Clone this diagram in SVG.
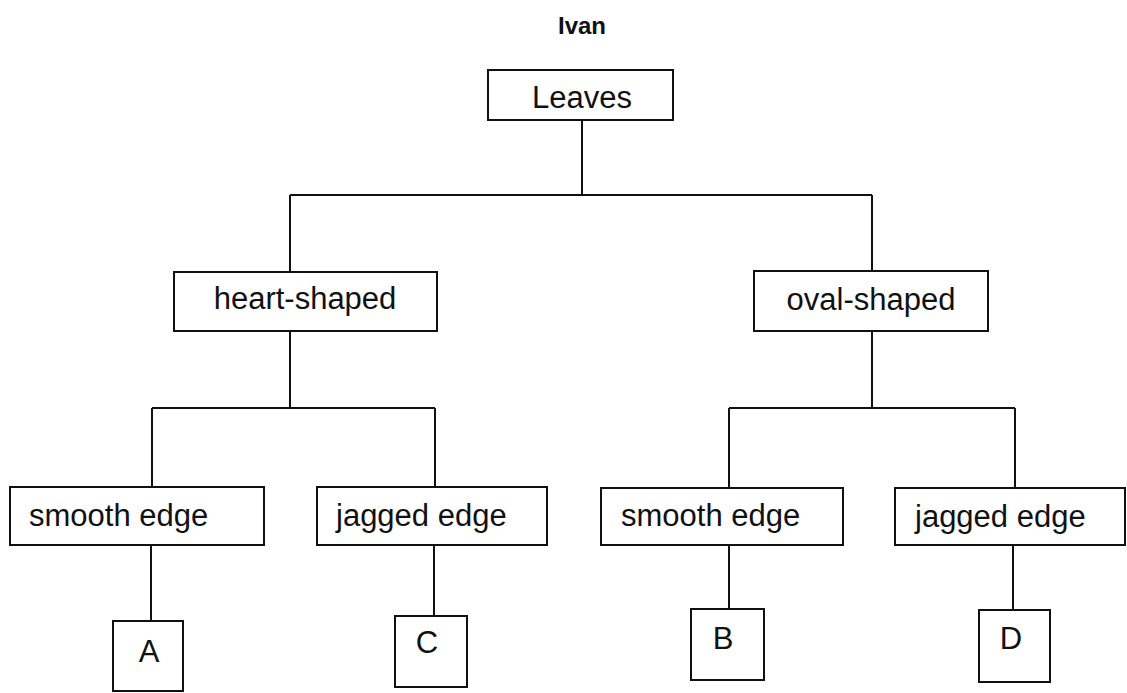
<svg xmlns="http://www.w3.org/2000/svg" width="1127" height="693" viewBox="0 0 1127 693">
<style>
.box{fill:#fff;stroke:#111;stroke-width:2}
.lbl{font-family:"Liberation Sans",Arial,sans-serif;font-size:31px;fill:#111}
.c{text-anchor:middle}
.ttl{font-family:"Liberation Sans",Arial,sans-serif;font-size:24px;font-weight:bold;fill:#111;text-anchor:middle}
.con{fill:none;stroke:#111;stroke-width:2}
</style>
<rect width="1127" height="693" fill="#fff"/>
<text class="ttl" x="582" y="34">Ivan</text>
<g id="connectors">
<path class="con" d="M582 120V195M290 195H872M290 195V272M872 195V271"/>
<path class="con" d="M290 331V408M152 408H435M152 408V487M435 408V487"/>
<path class="con" d="M872 331V408M729 408H1015M729 408V488M1015 408V488"/>
<path class="con" d="M151 545V621M434 545V616M729 545V609M1013 545V610"/>
</g>
<g id="leaves"><rect class="box" x="488" y="70" width="185" height="50"/><text class="lbl c" x="582" y="108">Leaves</text></g>
<g id="heart"><rect class="box" x="174" y="272" width="263" height="59"/><text class="lbl c" x="305" y="309">heart-shaped</text></g>
<g id="oval"><rect class="box" x="754" y="271" width="234" height="60"/><text class="lbl c" x="871" y="310">oval-shaped</text></g>
<g id="smoothL"><rect class="box" x="10" y="487" width="254" height="58"/><text class="lbl" x="29" y="526">smooth edge</text></g>
<g id="jaggedL"><rect class="box" x="317" y="487" width="230" height="58"/><text class="lbl" x="336" y="526">jagged edge</text></g>
<g id="smoothR"><rect class="box" x="601" y="488" width="242" height="57"/><text class="lbl" x="621" y="526">smooth edge</text></g>
<g id="jaggedR"><rect class="box" x="895" y="488" width="230" height="57"/><text class="lbl" x="915" y="527">jagged edge</text></g>
<g id="A"><rect class="box" x="113" y="621" width="70" height="70"/><text class="lbl c" x="149" y="662">A</text></g>
<g id="C"><rect class="box" x="395" y="616" width="72" height="71"/><text class="lbl c" x="427" y="653">C</text></g>
<g id="B"><rect class="box" x="691" y="609" width="73" height="71"/><text class="lbl c" x="723" y="649">B</text></g>
<g id="D"><rect class="box" x="979" y="610" width="71" height="72"/><text class="lbl c" x="1011" y="649">D</text></g>
</svg>
